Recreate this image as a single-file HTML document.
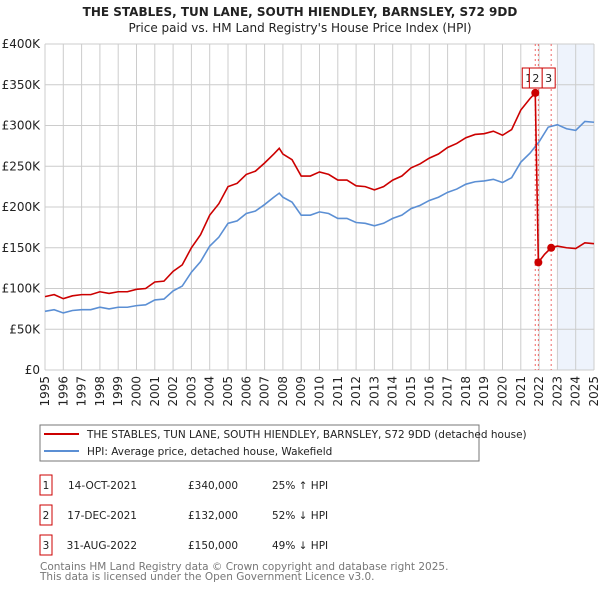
<!DOCTYPE html>
<html><head><meta charset="utf-8"><style>
body{margin:0;background:#fff;font-family:"Liberation Sans","DejaVu Sans",sans-serif;}
svg text{font-family:"DejaVu Sans","Liberation Sans",sans-serif;}
</style></head><body>
<svg id="c" width="600" height="590" viewBox="0 0 600 590" xmlns="http://www.w3.org/2000/svg">
<text x="300" y="16" text-anchor="middle" font-size="12" font-weight="bold" fill="#222">THE STABLES, TUN LANE, SOUTH HIENDLEY, BARNSLEY, S72 9DD</text>
<text x="300" y="32" text-anchor="middle" font-size="12" fill="#222">Price paid vs. HM Land Registry's House Price Index (HPI)</text>
<g id="grid"></g><g id="marks"></g>
<rect x="40" y="425" width="439" height="36" fill="#fff" stroke="#777"/>
<line x1="44" y1="434" x2="79" y2="434" stroke="#cc0000" stroke-width="2"/>
<text x="87" y="438" font-size="10.5" fill="#222">THE STABLES, TUN LANE, SOUTH HIENDLEY, BARNSLEY, S72 9DD (detached house)</text>
<line x1="44" y1="451" x2="79" y2="451" stroke="#5b8fd4" stroke-width="2"/>
<text x="87" y="455" font-size="10.5" fill="#222">HPI: Average price, detached house, Wakefield</text>
<g font-size="10.5" fill="#222">
<rect x="40" y="475" width="12" height="20" fill="#fff" stroke="#cc0000"/><text x="46" y="489" text-anchor="middle">1</text>
<text x="137" y="489" text-anchor="end">14-OCT-2021</text><text x="188" y="489">£340,000</text><text x="272" y="489">25% ↑ HPI</text>
<rect x="40" y="505" width="12" height="20" fill="#fff" stroke="#cc0000"/><text x="46" y="519" text-anchor="middle">2</text>
<text x="137" y="519" text-anchor="end">17-DEC-2021</text><text x="188" y="519">£132,000</text><text x="272" y="519">52% ↓ HPI</text>
<rect x="40" y="535" width="12" height="20" fill="#fff" stroke="#cc0000"/><text x="46" y="549" text-anchor="middle">3</text>
<text x="137" y="549" text-anchor="end">31-AUG-2022</text><text x="188" y="549">£150,000</text><text x="272" y="549">49% ↓ HPI</text>
</g>
<text x="40" y="570" font-size="10.5" fill="#777">Contains HM Land Registry data © Crown copyright and database right 2025.</text>
<text x="40" y="580" font-size="10.5" fill="#777">This data is licensed under the Open Government Licence v3.0.</text>
</svg>
<script>
const yTicks=[0,50,100,150,200,250,300,350,400];
const yLabels=["£0","£50K","£100K","£150K","£200K","£250K","£300K","£350K","£400K"];
const years=[1995,1996,1997,1998,1999,2000,2001,2002,2003,2004,2005,2006,2007,2008,2009,2010,2011,2012,2013,2014,2015,2016,2017,2018,2019,2020,2021,2022,2023,2024,2025];
const hpiT=[1995,1995.5,1996,1996.5,1997,1997.5,1998,1998.5,1999,1999.5,2000,2000.5,2001,2001.5,2002,2002.5,2003,2003.5,2004,2004.5,2005,2005.5,2006,2006.5,2007,2007.5,2007.8,2008,2008.5,2009,2009.5,2010,2010.5,2011,2011.5,2012,2012.5,2013,2013.5,2014,2014.5,2015,2015.5,2016,2016.5,2017,2017.5,2018,2018.5,2019,2019.5,2020,2020.5,2021,2021.5,2022,2022.5,2023,2023.5,2024,2024.5,2025];
const hpiV=[72,74,70,73,74,74,77,75,77,77,79,80,86,87,97,103,120,133,152,163,180,183,192,195,203,212,217,212,206,190,190,194,192,186,186,181,180,177,180,186,190,198,202,208,212,218,222,228,231,232,234,230,236,255,266,280,298,301,296,294,305,304];
const redT=[1995,1995.5,1996,1996.5,1997,1997.5,1998,1998.5,1999,1999.5,2000,2000.5,2001,2001.5,2002,2002.5,2003,2003.5,2004,2004.5,2005,2005.5,2006,2006.5,2007,2007.5,2007.8,2008,2008.5,2009,2009.5,2010,2010.5,2011,2011.5,2012,2012.5,2013,2013.5,2014,2014.5,2015,2015.5,2016,2016.5,2017,2017.5,2018,2018.5,2019,2019.5,2020,2020.5,2021,2021.5,2021.79,2021.96,2022.3,2022.66,2023,2023.5,2024,2024.5,2025];
const redV=[90,92.5,87.5,91,92.5,92.5,96,94,96,96,99,100,108,109,121,129,150,166,190,204,225,229,240,244,254,265,272,265,258,238,238,243,240,233,233,226,225,221,225,233,238,248,253,260,265,273,278,285,289,290,293,288,295,319,333,340,132,142,150,152,150,149,156,155];
const saleT=[2021.79,2021.96,2022.66];
const saleV=[340,132,150];
const saleLabels=["1","2","3"];
const NS="http://www.w3.org/2000/svg";
const X0=45,X1=594,Y0=370,Y1=44;
const x=t=>X0+(t-1995)/30*(X1-X0);
const y=v=>Y0-v/400*(Y0-Y1);
const g=document.getElementById('grid'),m=document.getElementById('marks');
function mk(tag,a,p){const e=document.createElementNS(NS,tag);for(const k in a)e.setAttribute(k,a[k]);p.appendChild(e);return e;}
const sh=mk('rect',{x:x(2023),y:Y1,width:X1-x(2023),height:Y0-Y1,fill:'#eef3fc'},g);


yTicks.forEach((v,i)=>{
 const l=mk('line',{x1:X0,x2:X1,y1:y(v),y2:y(v),stroke:'#cccccc'},g);
 
 
 const t=mk('text',{x:40,y:y(v)+4,'text-anchor':'end','font-size':'12',fill:'#222'},g);
 
 
 t.textContent=yLabels[i];
});
years.forEach(yr=>{
 const l=mk('line',{x1:x(yr),x2:x(yr),y1:Y1,y2:Y0,stroke:'#cccccc'},g);
 
 
 const t=mk('text',{x:0,y:0,'text-anchor':'end','font-size':'12',fill:'#222',transform:`translate(${x(yr)+4},376) rotate(-90)`},g);
 
 
 t.textContent=yr;
});
saleT.forEach(t=>{
 const l=mk('line',{x1:x(t),x2:x(t),y1:Y1,y2:Y0,stroke:'#ee6666','stroke-dasharray':'2,3'},m);
 
 
});
const hp=mk('polyline',{points:hpiT.map((t,i)=>x(t)+','+y(hpiV[i])).join(' '),fill:'none',stroke:'#5b8fd4','stroke-width':1.6},m);


const rp=mk('polyline',{points:redT.map((t,i)=>x(t)+','+y(redV[i])).join(' '),fill:'none',stroke:'#cc0000','stroke-width':1.6},m);


saleT.forEach((t,i)=>{
 const c=mk('circle',{cx:x(t),cy:y(saleV[i]),r:4,fill:'#cc0000'},m);
 
 
});
const bx=[x(saleT[0])-13,x(saleT[1])-9,x(saleT[2])-9];
saleT.forEach((t,i)=>{
 const r=mk('rect',{x:bx[i],y:68,width:13,height:20,fill:'#fff',stroke:'#cc0000'},m);
 
 
 const tx=mk('text',{x:bx[i]+6.5,y:82,'text-anchor':'middle','font-size':'11',fill:'#222'},m);
 
 
 tx.textContent=saleLabels[i];
});
</script>
</body></html>
